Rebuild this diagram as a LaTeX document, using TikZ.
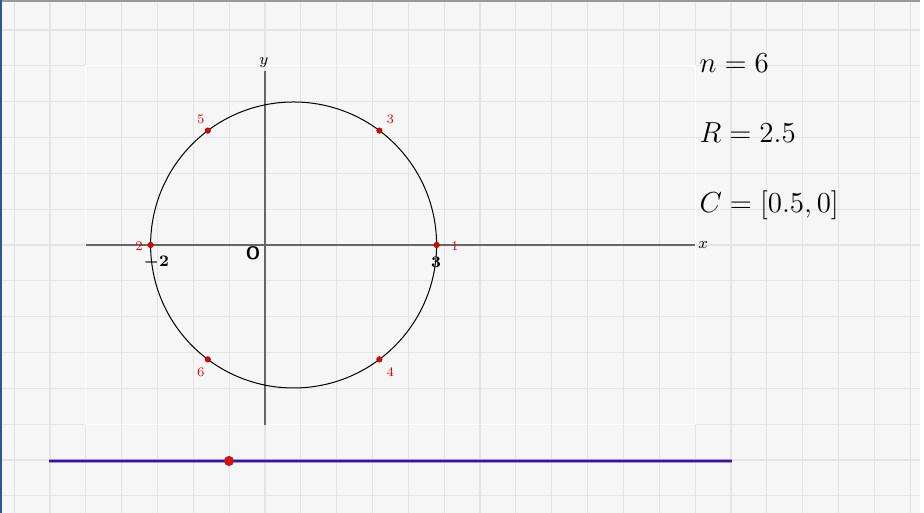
\documentclass[tikz,border=0pt]{standalone}
\usepackage{amsmath}
\usepackage{tikz}
\usetikzlibrary{positioning}
\definecolor{appbg}{HTML}{F6F6F6}
\definecolor{gridgray}{HTML}{E4E4E4}
\definecolor{ptred}{HTML}{E00000}
\definecolor{sliderblue}{HTML}{3414A8}
\definecolor{edgeblue}{HTML}{2D5599}

\begin{document}
\begin{tikzpicture}[
    gridln/.style={draw=gridgray, line width=0.6pt},
    axisln/.style={draw=black!60, line width=0.6pt},
    latpt/.style={circle, fill=ptred, draw=ptred!70!black, line width=0.2pt, inner sep=0pt, minimum size=2.8pt},
    ptlabel/.style={text=ptred, font=\fontsize{6.5}{7}\selectfont, inner sep=0pt},
    ticklabel/.style={font=\fontsize{8}{9}\selectfont\bfseries, inner sep=0pt},
    param/.style={anchor=west, font=\fontsize{14}{17}\selectfont, inner sep=0pt}
]
    \useasboundingbox (-4.633,-4.685) rectangle (11.521,4.283);

    % Background and grid
    \fill[white] (-4.633,-4.685) rectangle (11.521,4.283);
    \fill[appbg] (-4.633,-4.685) rectangle (11.45,4.283);
    \foreach \i in {-7,...,18}
        \draw[gridln] (\i*0.6266,-4.685) -- (\i*0.6266,4.283);
    \foreach \j in {-7,...,6}
        \draw[gridln] (-4.633,\j*0.6266) -- (11.45,\j*0.6266);
    \draw[white, line width=0.6pt] (-3.133,-3.133) rectangle (7.52,3.133);
    \draw[black!40, line width=1pt] (-4.633,4.265) -- (11.45,4.265);
    \draw[edgeblue, line width=1.2pt] (-4.622,-4.685) -- (-4.622,4.283);

    % Axes
    \draw[axisln] (-3.133,0) -- (7.52,0);
    \draw[axisln] (0,-3.147) -- (0,3.05);
    \node[font=\fontsize{8}{9}\selectfont, inner sep=0pt] (xlab) at (7.66,0) {$x$};
    \node[font=\fontsize{8}{9}\selectfont, inner sep=0pt] (ylab) at (-0.02,3.18) {$y$};
    \node[ticklabel] (tm2) at (-1.9,-0.30) {$\boldsymbol{-2}$};
    \node[ticklabel] (t3) at (2.99,-0.30) {$\boldsymbol{3}$};
    \node[font=\fontsize{9}{10}\selectfont\sffamily\bfseries, inner sep=0pt] (orig) at (-0.21,-0.14) {O};

    % Circle
    \draw[black, line width=0.5pt] (0.5,0) circle (2.5);

    % Lattice points on the circle
    \node[latpt] (p1) at (3,0) {};
    \node[latpt] (p2) at (-2,0) {};
    \node[latpt] (p3) at (2,2) {};
    \node[latpt] (p4) at (2,-2) {};
    \node[latpt] (p5) at (-1,2) {};
    \node[latpt] (p6) at (-1,-2) {};
    \node[ptlabel] (l1) at (3.32,-0.02) {1};
    \node[ptlabel] (l2) at (-2.2,-0.02) {2};
    \node[ptlabel] (l3) at (2.19,2.20) {3};
    \node[ptlabel] (l4) at (2.19,-2.22) {4};
    \node[ptlabel] (l5) at (-1.12,2.20) {5};
    \node[ptlabel] (l6) at (-1.12,-2.22) {6};

    % Parameters
    \node[param] (npar) at (7.59,3.18) {$n=6$};
    \node[param] (rpar) at (7.59,1.96) {$R=2.5$};
    \node[param] (cpar) at (7.59,0.70) {$C=[0.5,0]$};

    % Slider
    \coordinate (sl) at (-3.776,-3.776);
    \coordinate (sr) at (8.16,-3.776);
    \draw[sliderblue!45, line width=1.8pt] (sl) -- (sr);
    \draw[sliderblue, line width=1pt] (sl) -- (sr);
    \node[circle, fill=red, draw=black!70, line width=0.4pt, inner sep=0pt, minimum size=4.6pt] (knob) at (-0.629,-3.776) {};

\end{tikzpicture}
\end{document}
